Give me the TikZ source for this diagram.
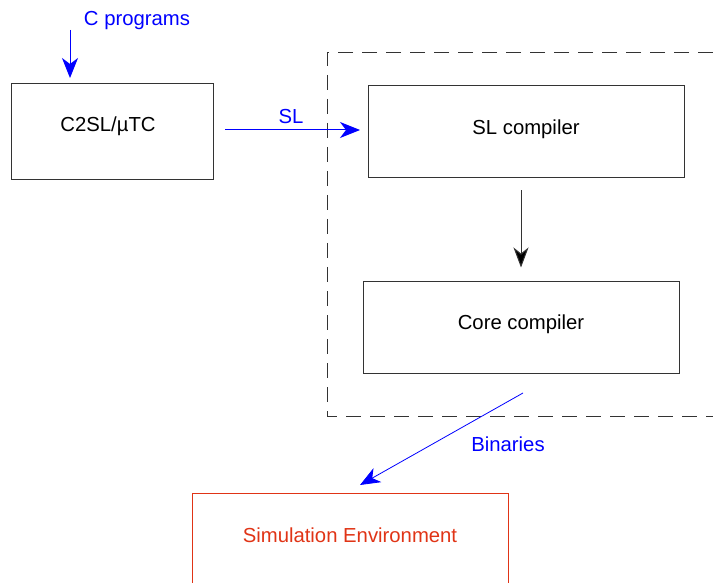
\documentclass[tikz,border=0pt]{standalone}
\usepackage{fontspec}
\setmainfont{Liberation Sans}
\usetikzlibrary{arrows.meta}
\definecolor{simred}{RGB}{224,52,22}
\tikzset{
  box/.style={draw=black!80, line width=1pt, minimum width=316pt, minimum height=92pt, inner sep=0pt},
  lbl/.style={font=\fontsize{20.3}{24}\selectfont, inner sep=0pt},
  bluearrow/.style={draw=blue, line width=1pt, -{Stealth[length=20pt, width=16pt, inset=6pt]}},
  blackarrow/.style={draw=black!80, line width=1pt, -{Stealth[length=20pt, width=15pt, inset=6pt, fill=black]}},
  dashbox/.style={draw=black!80, line width=1pt, dash pattern=on 15pt off 9pt}
}
\begin{document}
\begin{tikzpicture}[x=1pt, y=-1pt]
\useasboundingbox (0,0) rectangle (713,583);
\clip (0,0) rectangle (713,583);
% dashed region
\draw[dashbox] (713,53) -- (327,53) -- (327,416) -- (713,416);
% boxes
\node[box, minimum width=202pt, minimum height=96pt] (c2sl) at (112,132) {};
\node[lbl] (c2sltxt) at (108,126) {C2SL/µTC};
\node[box] (slc) at (526,132) {};
\node[lbl] (slctxt) at (526,129) {SL compiler};
\node[box] (core) at (521,327) {};
\node[lbl] (coretxt) at (521,324) {Core compiler};
\node[box, draw=simred] (sim) at (350,539) {};
\node[lbl, text=simred] (simtxt) at (350,535) {Simulation Environment};
% labels
\node[lbl, text=blue] (cprog) at (137,21) {C programs};
\node[lbl, text=blue] (sllbl) at (291,117) {SL};
\node[lbl, text=blue] (binlbl) at (508,444) {Binaries};
% coordinates for connector ends
\coordinate (cpA) at (70,30);
\coordinate (cpB) at (70,78);
\coordinate (slA) at (225,130);
\coordinate (slB) at (360,130);
\coordinate (binA) at (523,393);
\coordinate (binB) at (360,485);
% connectors
\draw[bluearrow] (cpA) -- (cpB);
\draw[bluearrow] (slA) -- (slB);
\draw[blackarrow] ([yshift=-12pt]slc.south -| core.center) -- ([yshift=13pt]core.north);
\draw[bluearrow, line width=0.8pt] (binA) -- (binB);
\end{tikzpicture}
\end{document}
